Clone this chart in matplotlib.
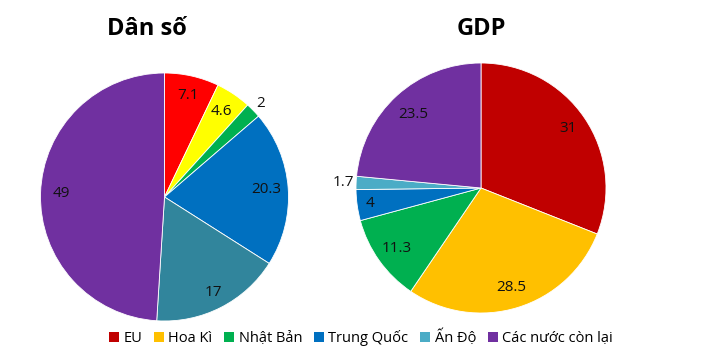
import numpy as np
import matplotlib
matplotlib.use("Agg")
import matplotlib.pyplot as plt
from matplotlib.patches import Patch

plt.rcParams['font.family'] = ['Open Sans', 'DejaVu Sans']

# data
categories = ["EU", "Hoa Kì", "Nhật Bản", "Trung Quốc", "Ấn Độ", "Các nước còn lại"]
dan_so = [7.1, 4.6, 2, 20.3, 17, 49]
gdp = [31, 28.5, 11.3, 4, 1.7, 23.5]

left_colors = ["#FF0000", "#FFFF00", "#00B050", "#0070C0", "#31859C", "#7030A0"]
right_colors = ["#C00000", "#FFC000", "#00B050", "#0070C0", "#4BACC6", "#7030A0"]
legend_colors = ["#C00000", "#FFC000", "#00B050", "#0070C0", "#4BACC6", "#7030A0"]

# label distance from centre (fraction of radius), per wedge
left_label_r = [0.84, 0.83, 1.08, 0.82, 0.86, 0.83]
right_label_r = [0.84, 0.83, 0.83, 0.90, 1.10, 0.80]

W, H = 726, 358
fig = plt.figure(figsize=(W / 100, H / 100), dpi=100)


def draw_pie(cx, cy, R, values, colors, label_r, title, title_x):
    ax = fig.add_axes([(cx - R) / W, (H - cy - R) / H, 2 * R / W, 2 * R / H])
    wedges, _ = ax.pie(values, colors=colors, startangle=90, counterclock=False,
                       wedgeprops=dict(edgecolor="white", linewidth=0.6))
    ax.set_xlim(-1, 1)
    ax.set_ylim(-1, 1)
    ax.set_aspect("equal")
    for w, v, r in zip(wedges, values, label_r):
        ang = np.deg2rad((w.theta1 + w.theta2) / 2)
        ax.text(r * np.cos(ang), r * np.sin(ang), f"{v:g}", ha="center", va="center",
                fontsize=11, color="#111111")
    fig.text(title_x / W, 1 - 29 / H, title, ha="center", va="center",
             fontsize=17, fontweight="bold")
    return ax


draw_pie(164.5, 197, 124, dan_so, left_colors, left_label_r, "Dân số", 147)
draw_pie(481, 188, 125, gdp, right_colors, right_label_r, "GDP", 481)

handles = [Patch(facecolor=c, edgecolor="none") for c in legend_colors]
fig.legend(handles, categories, loc="center", bbox_to_anchor=(0.497, 1 - 338 / H),
           ncol=6, frameon=False, fontsize=10.5, handlelength=0.7, handleheight=0.7,
           handletextpad=0.3, columnspacing=0.8)

fig.savefig("out.png", dpi=100)
